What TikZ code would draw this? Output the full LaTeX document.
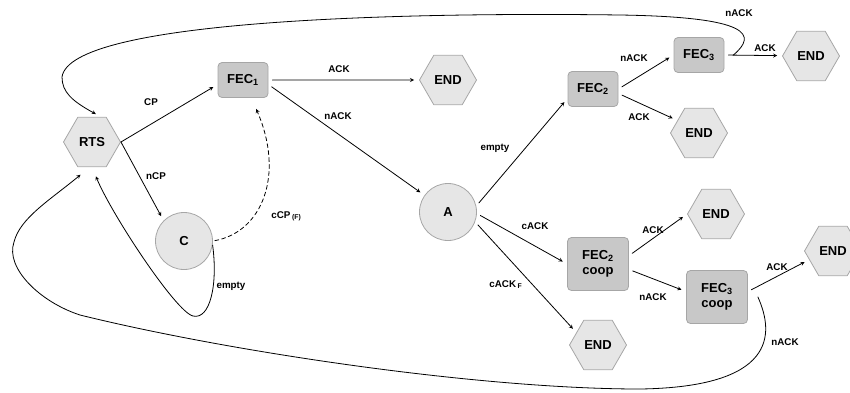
\documentclass[tikz,border=0pt]{standalone}
\usepackage{fontspec}
\setmainfont{Liberation Sans}
\usetikzlibrary{shapes.geometric}
\definecolor{hexfill}{HTML}{E6E6E6}
\definecolor{boxfill}{HTML}{C8C8C8}
\definecolor{edgegray}{HTML}{A6A6A6}
\begin{document}
\begin{tikzpicture}[x=1pt,y=-1pt,>=stealth,line width=0.8pt,line join=round,line cap=round,
	hexa/.style={regular polygon,regular polygon sides=6,minimum size=57pt,inner sep=0pt,fill=hexfill,draw=edgegray,font=\fontsize{13}{15}\selectfont\bfseries},
	fec/.style={rectangle,rounded corners=4pt,minimum width=50pt,minimum height=35pt,inner sep=1pt,fill=boxfill,draw=edgegray,align=center,font=\fontsize{13}{15}\selectfont\bfseries},
	coop/.style={fec,minimum width=61pt,minimum height=53pt},
	circ/.style={circle,minimum size=57pt,inner sep=0pt,fill=hexfill,draw=edgegray,font=\fontsize{13}{15}\selectfont\bfseries},
	lbl/.style={inner sep=0pt,font=\fontsize{9.8}{11}\selectfont\bfseries},
	arr/.style={->,shorten >=5pt,shorten <=4pt}]
	\useasboundingbox (0,0) rectangle (850,392);
	% states
	\node[hexa] (rts) at (92,142) {RTS};
	\node[fec] (fec1) at (243,80) {FEC\textsubscript{1}};
	\node[circ] (c) at (184,241) {C};
	\node[circ] (a) at (448,212) {A};
	\node[fec] (fec2) at (593,89) {FEC\textsubscript{2}};
	\node[fec] (fec3) at (699,55) {FEC\textsubscript{3}};
	\node[coop] (coop2) at (598,264) {FEC\textsubscript{2}\\coop};
	\node[coop] (coop3) at (717,297) {FEC\textsubscript{3}\\coop};
	\foreach \n/\x/\y in {end1/448/80,end2/811/56,end3/699/133,end4/716/214,end5/833/251,end6/598/345}
		\node[hexa] (\n) at (\x,\y) {END};
	% transitions
	\draw[arr,shorten <=0pt] (rts.east)--(fec1.-170);
	\draw[arr,shorten <=0pt] (rts.east)--(c.135);
	\draw[arr] (fec1.east)--(end1);
	\draw[arr] (fec1.-10)--(a);
	\draw[arr,dash pattern=on 4pt off 3pt,shorten <=2pt,shorten >=12pt] (c.east) .. controls (262,232) and (285,175) .. (fec1.-65);
	\draw[arr,shorten <=0pt,shorten >=10pt] (c.-8) .. controls (218,285) and (210,320) .. (193,316) .. controls (176,312) and (112,215) .. (rts.-90);
	\draw[arr] (a.12)--(fec2.-160);
	\draw[arr] (a.-3)--(coop2.west);
	\draw[arr] (a.-20)--(end6.150);
	\draw[arr] (fec2.east)--(fec3.west);
	\draw[arr] (fec2.-10)--(end3.150);
	\draw[arr] (fec3.east)--(end2);
	\draw[arr] (coop2.15)--(end4.west);
	\draw[arr] (coop2.-10)--(coop3.170);
	\draw[arr] (coop3.10)--(end5.200);
	% back to RTS
	\draw[arr,shorten <=0pt,shorten >=6pt] ([xshift=9pt]fec3.east) .. controls (757,35) and (752,17) .. (620,15) .. controls (400,12) and (70,20) .. (62,77) .. controls (62,92) and (72,101) .. (rts.70);
	\draw[arr,shorten <=0pt,shorten >=12pt] ([xshift=10pt]coop3.east) .. controls (775,335) and (775,387) .. (640,389) .. controls (480,389) and (230,352) .. (80,315) .. controls (40,302) and (5,268) .. (14,242) .. controls (20,218) and (50,200) .. (rts.-95);
	% labels
	\foreach \x/\y/\t [count=\i] in {151/102/CP,156/176/nCP,339/69/ACK,338/116/nACK,231/286/empty,495/148/empty,535/226/cACK,634/58/nACK,639/117/ACK,765/48/ACK,739/13/nACK,653/230/ACK,653/297/nACK,777/267/ACK,785/342/nACK}
		\node[lbl] (lbl\i) at (\x,\y) {\t};
	\node[lbl,anchor=base west] (lblccp) at (271,218) {cCP\,\textsubscript{(F)}};
	\node[lbl,anchor=base west] (lblcackf) at (489,287) {cACK\,\textsubscript{F}};
\end{tikzpicture}
\end{document}
